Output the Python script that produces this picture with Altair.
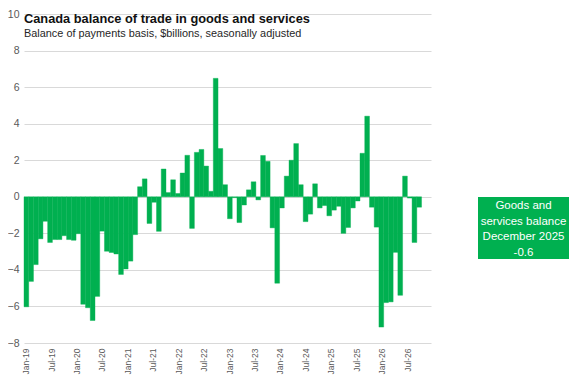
import altair as alt
import pandas as pd

# ---- data ----
balance = [
    -6.02, -4.63, -3.71, -2.30, -1.34, -2.50, -2.34, -2.34, -2.13, -2.34, -2.38, -2.02,  # 2019
    -5.88, -6.07, -6.77, -5.45, -1.88, -2.98, -3.05, -3.13, -4.25, -3.95, -3.52, -2.07,  # 2020
    0.55, 0.98, -1.46, -0.30, -1.89, 1.52, 0.23, 0.93, 0.18, 1.30, 2.27, -1.73,          # 2021
    2.43, 2.59, 1.68, 0.30, 6.48, 2.64, 0.66, -1.20, -0.05, -1.41, -0.45, 0.38,          # 2022
    0.82, -0.17, 2.26, 1.94, -1.70, -4.73, -0.61, 1.13, 2.00, 2.91, 0.66, -1.36,         # 2023
    -0.95, 0.71, -0.61, -0.48, -1.04, -0.73, -0.52, -2.00, -1.68, -0.61, -0.23, 2.38,    # 2024
    4.41, -0.57, -1.66, -7.13, -5.79, -5.75, -3.04, -5.39, 1.13, -0.07, -2.50, -0.57,    # 2025
]
months = pd.period_range("2019-01", periods=len(balance), freq="M").strftime("%b-%y").tolist()
bar_slots = pd.period_range("2019-01", periods=86, freq="M").strftime("%b-%y").tolist()
axis_months = pd.period_range("2019-01", periods=96, freq="M").strftime("%b-%y").tolist()
tick_labels = axis_months[::6]
y_ticks = [-8, -6, -4, -2, 0, 2, 4, 6, 8, 10]

TITLE = "Canada balance of trade in goods and services"
SUBTITLE = "Balance  of payments  basis, $billions, seasonally adjusted"
last_period = pd.Period("2019-01", freq="M") + (len(balance) - 1)
box_lines = ["Goods and", "services balance", last_period.strftime("%B %Y"), f"{balance[-1]:.1f}"]

FONT = "Liberation Sans, Arial, sans-serif"
GREEN = "#00B050"
GRID = "#D9D9D9"
LABEL = "#595959"

bars_df = pd.DataFrame({"month": months, "balance": balance})
axis_df = pd.DataFrame({"month": axis_months})
one = pd.DataFrame({"k": [0]})

y_enc = alt.Y(
    "balance:Q",
    title="",
    scale=alt.Scale(domain=[-8, 10], nice=False, zero=True),
    axis=alt.Axis(values=y_ticks, grid=True, gridColor=GRID, domain=False, ticks=False,
                  labelOverlap=False, labelPadding=5, labelFont=FONT, labelFontSize=10.5,
                  labelColor=LABEL),
)

bars = alt.Chart(bars_df).mark_bar(color=GREEN, stroke=GREEN, strokeWidth=0.4).encode(
    x=alt.X("month:O", sort=None,
            scale=alt.Scale(type="band", domain=bar_slots, paddingInner=0, paddingOuter=0),
            axis=None),
    y=y_enc,
)

axis_layer = alt.Chart(axis_df).mark_point(opacity=0).encode(
    x=alt.X("month:O", sort=None, title="",
            scale=alt.Scale(type="band", domain=axis_months, paddingInner=0, paddingOuter=0),
            axis=alt.Axis(values=tick_labels, labelAngle=-90, domain=False, ticks=False, grid=False,
                          labelOverlap=False, labelPadding=5, labelFont=FONT, labelFontSize=8.5,
                          labelColor=LABEL)),
    y=alt.value(0),
)

title_mark = alt.Chart(one).mark_text(
    text=TITLE, align="left", baseline="alphabetic", font=FONT, fontSize=12.8,
    fontWeight="bold", color="#111111",
).encode(x=alt.value(0), y=alt.value(8.7))

subtitle_mark = alt.Chart(one).mark_text(
    text=SUBTITLE, align="left", baseline="alphabetic", font=FONT, fontSize=10.9,
    color="#262626",
).encode(x=alt.value(0), y=alt.value(23.3))

box = alt.Chart(one).mark_rect(color=GREEN).encode(
    x=alt.value(454), x2=alt.value(545), y=alt.value(183), y2=alt.value(245)
)

box_text = alt.Chart(one).mark_text(
    text=box_lines, align="center", baseline="alphabetic", font=FONT, fontSize=11.5,
    lineHeight=15.5, color="white",
).encode(x=alt.value(499.5), y=alt.value(195))

chart = alt.layer(axis_layer, bars, title_mark, subtitle_mark, box, box_text).resolve_scale(
    x="independent"
).properties(
    width=407, height=329,
    autosize=alt.AutoSizeParams(type="none"),
    padding={"left": 16, "top": 6, "right": 138, "bottom": 34},
).configure(background="white").configure_view(strokeWidth=0, stroke="transparent")

chart.save("out.html", embed_options={"renderer": "svg", "actions": False})
